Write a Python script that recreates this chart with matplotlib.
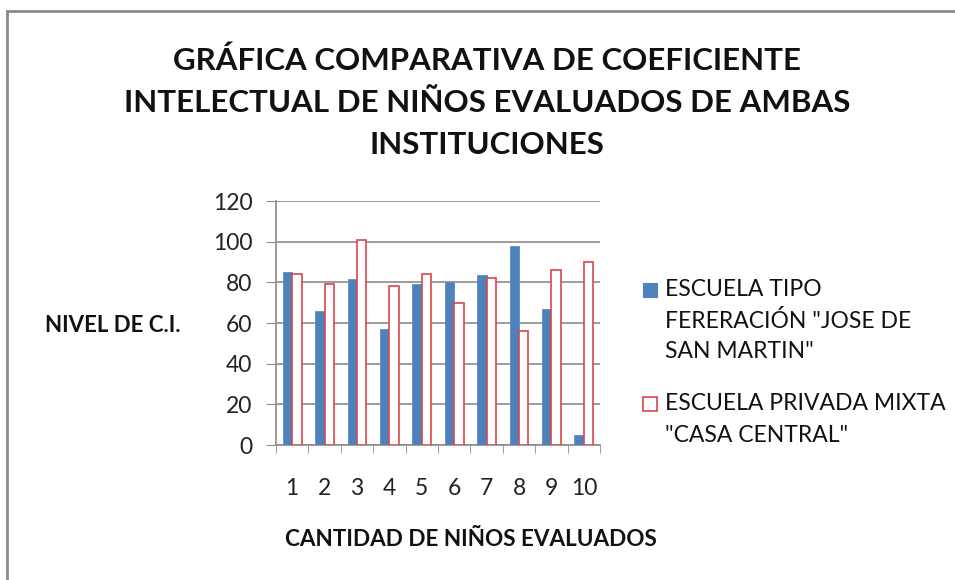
import matplotlib
matplotlib.use("Agg")
import matplotlib.pyplot as plt
from matplotlib.patches import Rectangle
import numpy as np

plt.rcParams['font.family'] = ['Lato', 'DejaVu Sans']

categories = ['1', '2', '3', '4', '5', '6', '7', '8', '9', '10']
escuela_federacion = [85, 66, 81.5, 57, 79, 80, 83.5, 98, 67, 5]
escuela_privada = [84, 79, 101, 78, 84, 70, 82, 56, 86, 90]
series_names = ['ESCUELA TIPO\nFERERACIÓN "JOSE DE\nSAN MARTIN"',
                'ESCUELA PRIVADA MIXTA\n"CASA CENTRAL"']
title = 'GRÁFICA COMPARATIVA DE COEFICIENTE\nINTELECTUAL DE NIÑOS EVALUADOS DE AMBAS\nINSTITUCIONES'
ylabel = 'NIVEL DE C.I.'
xlabel = 'CANTIDAD DE NIÑOS EVALUADOS'
yticks = [0, 20, 40, 60, 80, 100, 120]

blue = '#4F81BD'
red = '#D9474A'
grid = '#8C8C8C'
W, H = 955, 580

fig = plt.figure(figsize=(9.55, 5.8), dpi=100)
fig.patch.set_facecolor('white')
# outer chart frame
fig.add_artist(Rectangle((7 / W, -0.1), 1.2, 1 - 11 / H + 0.1, transform=fig.transFigure,
                         fill=False, edgecolor='#8A8A8A', linewidth=2))

ax = fig.add_axes([276 / W, 1 - 445 / H, 324 / W, 244 / H])
x = np.arange(1, len(categories) + 1)
w = 0.29
ax.bar(x - w / 2, escuela_federacion, width=w, color=blue, edgecolor='#5B8CC8', linewidth=0.6, zorder=3)
ax.bar(x + w / 2, escuela_privada, width=w, facecolor='white', edgecolor=red, linewidth=1.2, zorder=3)

ax.set_xlim(0.5, len(categories) + 0.5)
ax.set_ylim(0, 120)
ax.set_yticks(yticks)
ax.set_yticklabels([str(v) for v in yticks], fontsize=16.5, color='#222222')
ax.set_xticks(x)
ax.set_xticklabels(categories, fontsize=16.5, color='#222222')
ax.set_xticks(np.arange(0.5, len(categories) + 1, 1), minor=True)
ax.tick_params(axis='x', which='major', length=0, pad=24)
ax.tick_params(axis='x', which='minor', length=6, color=grid, direction='out')
ax.tick_params(axis='y', length=7, color=grid, pad=10)
for sp in ['top', 'right']:
    ax.spines[sp].set_visible(False)
for sp in ['left', 'bottom']:
    ax.spines[sp].set_color(grid)
    ax.spines[sp].set_linewidth(1.2)
ax.yaxis.grid(True, color=grid, linewidth=1.2, zorder=0)
ax.set_axisbelow(True)

fig.text(487 / W, 1 - 103 / H, title, ha='center', va='center', fontsize=22.5,
         fontweight='bold', linespacing=1.6, color='#111111')
fig.text(45 / W, 1 - 326 / H, ylabel, ha='left', va='center', fontsize=16,
         fontweight='bold', color='#111111')
fig.text(471 / W, 1 - 539 / H, xlabel, ha='center', va='center', fontsize=16.2,
         fontweight='bold', color='#111111')

# legend drawn manually so the marker aligns with the first text line
entry_tops = [290, 404]
line_step = 31
styles = [dict(facecolor=blue, edgecolor=blue, linewidth=0.8),
          dict(facecolor='white', edgecolor=red, linewidth=1.2)]
for name, y0, st in zip(series_names, entry_tops, styles):
    fig.add_artist(Rectangle((643 / W, 1 - (y0 + 7) / H), 14 / W, 14 / H,
                             transform=fig.transFigure, **st))
    for k, line in enumerate(name.split('\n')):
        fig.text(665 / W, 1 - (y0 + k * line_step) / H, line, ha='left', va='center',
                 fontsize=16.5, color='#111111')

fig.savefig('out.png', dpi=100)
